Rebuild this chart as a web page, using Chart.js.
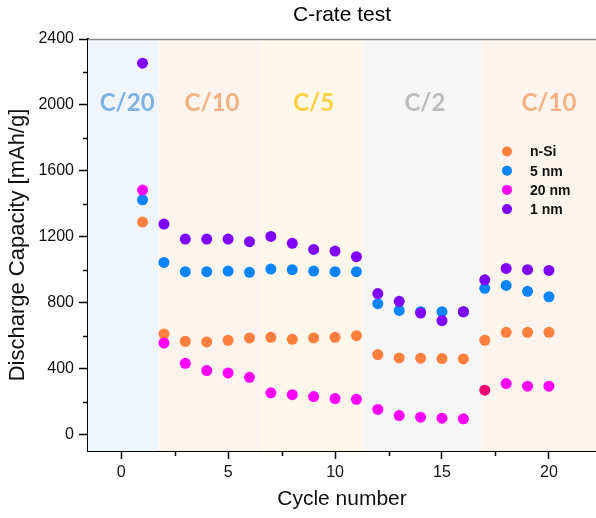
<!DOCTYPE html>
<html>
<head>
<meta charset="utf-8">
<script src="https://cdn.jsdelivr.net/npm/chart.js@4.4.1/dist/chart.umd.min.js"></script>
<style>
  html, body { margin: 0; padding: 0; background: #ffffff; }
  #wrap { width: 596px; height: 518px; }
</style>
</head>
<body>
<div id="wrap"><canvas id="c" width="596" height="518"></canvas></div>
<script>
// ---- data ----
const cycles = [1,2,3,4,5,6,7,8,9,10,11,12,13,14,15,16,17,18,19,20];
const nSi   = [1289, 610, 566, 562, 572, 586, 590, 578, 586, 590, 600, 485, 465, 463, 461, 459, 572, 620, 620, 620];
const nm5   = [1424,1044, 988, 988, 992, 984,1004,1000, 992, 988, 988, 794, 753, 745, 745, 745, 887, 905, 869, 836];
const nm20  = [1483, 556, 432, 388, 374, 347, 253, 242, 230, 218, 214, 152, 115, 105,  99,  95, 269, 309, 293, 293];
const nm1   = [2253,1277,1186,1186,1186,1170,1202,1160,1123,1113,1079, 855, 808, 737, 691, 745, 939,1008,1000, 996];
const seriesNames = ['n-Si', '5 nm', '20 nm', '1 nm'];
const seriesColors = ['#ff7f3f', '#0a84ff', '#ff00ff', '#8000ff'];
const highlightColor = '#f00070'; // one 20 nm point drawn in a darker pink
const highlightCycle = 17;

// rate regions (x start, x end) and their labels
const rateLabels = ['C/20', 'C/10', 'C/5', 'C/2', 'C/10'];
const rateStart  = [-1.55, 1.75, 6.5, 11.3, 16.87];
const rateEnd    = [1.75, 6.5, 11.3, 16.87, 22.2];
const rateLabelX = [0.28, 4.25, 9.0, 14.2, 20.0];
const rateLabelY = 2010;
const rateFill   = ['#f0f5fb', '#fdf4ee', '#fef7ea', '#f6f6f6', '#fdf4ee'];
const rateText   = ['#7eb2e2', '#f4b183', '#ffcf3f', '#bdbdbd', '#f4b183'];

const xMin = -1.55, xMax = 22.2, yMin = -100, yMax = 2400;
const xMajor = [0, 5, 10, 15, 20];
const xMinor = [2.5, 7.5, 12.5, 17.5];
const yMajor = [0, 400, 800, 1200, 1600, 2000, 2400];
const yMinor = [200, 600, 1000, 1400, 1800, 2200];

const titleText = 'C-rate test';
const xTitle = 'Cycle number';
const yTitle = 'Discharge Capacity [mAh/g]';

const SANS = '"Liberation Sans", Arial, sans-serif';

function makeSet(name, vals, color, order) {
  const pts = cycles.map((c, i) => ({ x: c, y: vals[i] }));
  return {
    label: name,
    data: pts,
    backgroundColor: name === '20 nm'
      ? cycles.map(c => c === highlightCycle ? highlightColor : color)
      : color,
    borderWidth: 0,
    pointRadius: 5.5,
    pointHoverRadius: 5.5,
    showLine: false,
    order: order
  };
}

const bandsPlugin = {
  id: 'bands',
  beforeDatasetsDraw(chart) {
    const { ctx, chartArea: a, scales: { x, y } } = chart;
    ctx.save();
    for (let i = 0; i < rateLabels.length; i++) {
      const x0 = Math.max(a.left, x.getPixelForValue(rateStart[i]));
      const x1 = Math.min(a.right, x.getPixelForValue(rateEnd[i]));
      ctx.fillStyle = rateFill[i];
      ctx.fillRect(x0, a.top, x1 - x0, a.bottom - a.top);
    }
    ctx.font = 'bold 24px Lato, "Open Sans", sans-serif';
    ctx.textAlign = 'center';
    ctx.textBaseline = 'middle';
    for (let i = 0; i < rateLabels.length; i++) {
      ctx.fillStyle = rateText[i];
      ctx.fillText(rateLabels[i], x.getPixelForValue(rateLabelX[i]), y.getPixelForValue(rateLabelY));
    }
    // top border
    ctx.strokeStyle = '#8a8a8a';
    ctx.lineWidth = 1.5;
    ctx.beginPath();
    ctx.moveTo(a.left, a.top + 0.5);
    ctx.lineTo(a.right, a.top + 0.5);
    ctx.stroke();
    ctx.restore();
  },
  afterDatasetsDraw(chart) {
    const { ctx, chartArea: a, scales: { x, y } } = chart;
    ctx.save();
    ctx.strokeStyle = '#000';
    ctx.lineWidth = 1.5;
    // minor ticks
    ctx.beginPath();
    yMinor.forEach(v => { const py = Math.round(y.getPixelForValue(v)) + 0.5; ctx.moveTo(a.left - 5, py); ctx.lineTo(a.left, py); });
    xMinor.forEach(v => { const px = Math.round(x.getPixelForValue(v)) + 0.5; ctx.moveTo(px, a.bottom); ctx.lineTo(px, a.bottom + 5); });
    ctx.stroke();
    // title
    ctx.fillStyle = '#000';
    ctx.font = '21px ' + SANS;
    ctx.textAlign = 'center';
    ctx.textBaseline = 'middle';
    ctx.fillText(titleText, (a.left + a.right) / 2, 15);
    // legend
    const lx = 507, ly = 151.5, step = 19.2;
    ctx.font = 'bold 14px ' + SANS;
    ctx.textAlign = 'left';
    for (let i = 0; i < seriesNames.length; i++) {
      ctx.fillStyle = seriesColors[i];
      ctx.beginPath();
      ctx.arc(lx, ly + i * step, 5, 0, Math.PI * 2);
      ctx.fill();
      ctx.fillStyle = '#111';
      ctx.fillText(seriesNames[i], lx + 23, ly + i * step + 1);
    }
    ctx.restore();
  }
};

new Chart(document.getElementById('c'), {
  type: 'scatter',
  data: {
    datasets: [
      makeSet(seriesNames[0], nSi,  seriesColors[0], 4),
      makeSet(seriesNames[1], nm5,  seriesColors[1], 3),
      makeSet(seriesNames[2], nm20, seriesColors[2], 2),
      makeSet(seriesNames[3], nm1,  seriesColors[3], 1)
    ]
  },
  options: {
    responsive: false,
    animation: false,
    events: [],
    layout: { autoPadding: false, padding: { top: 39, right: 0, left: 0, bottom: 0 } },
    plugins: { legend: { display: false }, tooltip: { enabled: false }, title: { display: false } },
    scales: {
      x: {
        type: 'linear', min: xMin, max: xMax,
        afterBuildTicks(s) { s.ticks = xMajor.map(v => ({ value: v })); },
        afterFit(s) { s.height = 67; },
        border: { display: true, color: '#000', width: 2 },
        grid: { display: true, drawOnChartArea: false, drawTicks: true, tickLength: 8, tickWidth: 1.5, tickColor: '#000' },
        ticks: {
          autoSkip: false, maxRotation: 0, padding: 4,
          color: '#111', font: { family: SANS, size: 16 },
          callback: v => String(v)
        },
        title: { display: true, text: xTitle, color: '#111', font: { family: SANS, size: 21 }, padding: { top: 4, bottom: 6 } }
      },
      y: {
        type: 'linear', min: yMin, max: yMax,
        afterBuildTicks(s) { s.ticks = yMajor.map(v => ({ value: v })); },
        afterFit(s) { s.width = 88; },
        border: { display: true, color: '#000', width: 2 },
        grid: { display: true, drawOnChartArea: false, drawTicks: true, tickLength: 9, tickWidth: 1.5, tickColor: '#000' },
        ticks: {
          autoSkip: false, padding: 5,
          color: '#111', font: { family: SANS, size: 16 },
          callback: v => String(v)
        },
        title: { display: true, text: yTitle, color: '#111', font: { family: SANS, size: 22 }, padding: { top: 5, bottom: 0 } }
      }
    }
  },
  plugins: [bandsPlugin]
});
</script>
</body>
</html>
